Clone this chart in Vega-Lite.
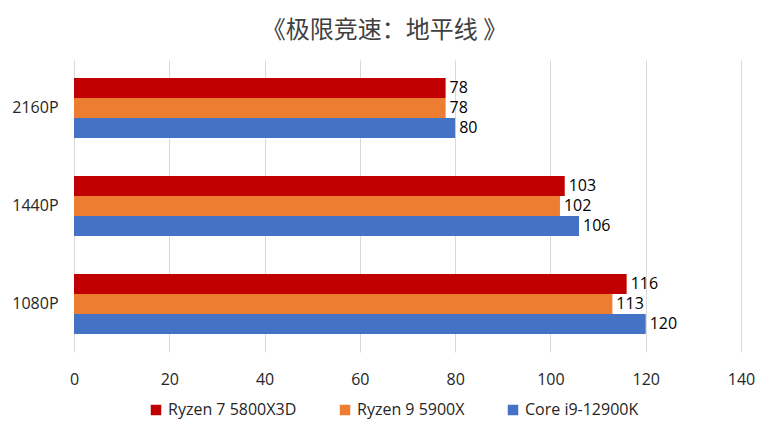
{
  "$schema": "https://vega.github.io/schema/vega-lite/v6.json",
  "width": 667,
  "height": 292,
  "autosize": {"type": "none"},
  "padding": {"left": 74, "top": 60, "right": 27, "bottom": 77},
  "background": "white",
  "title": {
    "text": "《极限竞速：地平线 》",
    "font": "Noto Sans CJK SC",
    "fontSize": 24,
    "fontWeight": "normal",
    "color": "#404040",
    "anchor": "middle",
    "dx": -23,
    "offset": 17
  },
  "data": {
    "values": [
      {"res": "2160P", "cpu": "Ryzen 7 5800X3D", "fps": 78},
      {"res": "2160P", "cpu": "Ryzen 9 5900X", "fps": 78},
      {"res": "2160P", "cpu": "Core i9-12900K", "fps": 80},
      {"res": "1440P", "cpu": "Ryzen 7 5800X3D", "fps": 103},
      {"res": "1440P", "cpu": "Ryzen 9 5900X", "fps": 102},
      {"res": "1440P", "cpu": "Core i9-12900K", "fps": 106},
      {"res": "1080P", "cpu": "Ryzen 7 5800X3D", "fps": 116},
      {"res": "1080P", "cpu": "Ryzen 9 5900X", "fps": 113},
      {"res": "1080P", "cpu": "Core i9-12900K", "fps": 120}
    ]
  },
  "encoding": {
    "y": {
      "field": "res",
      "type": "nominal",
      "sort": ["2160P", "1440P", "1080P"],
      "scale": {"paddingInner": 0.388, "paddingOuter": 0.184},
      "axis": {
        "title": null,
        "domain": false,
        "ticks": false,
        "labelPadding": 16,
        "labelFont": "Open Sans",
        "labelFontSize": 16,
        "labelColor": "#262626"
      }
    },
    "yOffset": {
      "field": "cpu",
      "type": "nominal",
      "sort": ["Ryzen 7 5800X3D", "Ryzen 9 5900X", "Core i9-12900K"],
      "scale": {"paddingInner": 0, "paddingOuter": 0}
    },
    "x": {
      "field": "fps",
      "type": "quantitative",
      "scale": {"domain": [0, 140]},
      "axis": {
        "title": null,
        "values": [0, 20, 40, 60, 80, 100, 120, 140],
        "domain": false,
        "ticks": false,
        "labelFlush": false,
        "labelPadding": 19,
        "labelFont": "Open Sans",
        "labelFontSize": 16,
        "labelColor": "#262626",
        "gridColor": "#d9d9d9",
        "gridWidth": 1
      }
    }
  },
  "layer": [
    {
      "mark": {"type": "bar"},
      "encoding": {
        "color": {
          "field": "cpu",
          "type": "nominal",
          "sort": ["Ryzen 7 5800X3D", "Ryzen 9 5900X", "Core i9-12900K"],
          "scale": {
            "domain": ["Ryzen 7 5800X3D", "Ryzen 9 5900X", "Core i9-12900K"],
            "range": ["#C00000", "#ED7D31", "#4472C4"]
          },
          "legend": {
            "title": null,
            "orient": "none",
            "legendX": 74,
            "legendY": 342,
            "direction": "horizontal",
            "symbolType": "square",
            "symbolSize": 110,
            "symbolStrokeWidth": 0,
            "labelFont": "Open Sans",
            "labelFontSize": 16,
            "labelColor": "#262626",
            "columnPadding": 40
          }
        }
      }
    },
    {
      "mark": {
        "type": "text",
        "align": "left",
        "baseline": "middle",
        "dx": 4,
        "font": "Open Sans",
        "fontSize": 16,
        "color": "#000000"
      },
      "encoding": {"text": {"field": "fps", "type": "quantitative"}}
    }
  ],
  "config": {"view": {"stroke": null}}
}
